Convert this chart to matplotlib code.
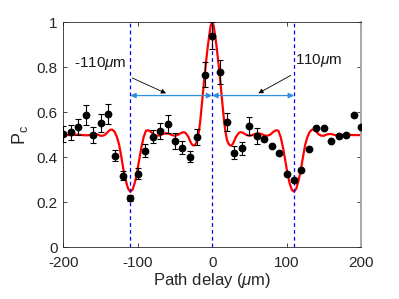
import matplotlib
matplotlib.use("Agg")
import matplotlib.pyplot as plt

plt.rcParams['font.family'] = ['Liberation Sans', 'DejaVu Sans']
plt.rcParams['mathtext.fontset'] = 'custom'
plt.rcParams['mathtext.it'] = 'Liberation Sans:italic'
plt.rcParams['mathtext.rm'] = 'Liberation Sans'
plt.rcParams['axes.unicode_minus'] = False

# measured data
delay = [-200, -190, -180, -170, -160, -150, -140, -130, -120, -110, -100, -90, -80, -70,
         -60, -50, -40, -30, -20, -10, 0, 10, 20, 30, 40, 50, 60, 70, 80, 90, 100, 110,
         120, 130, 140, 150, 160, 170, 180, 190, 200]
pc = [0.503, 0.510, 0.534, 0.586, 0.499, 0.550, 0.592, 0.407, 0.318, 0.218, 0.326, 0.429,
      0.491, 0.516, 0.546, 0.472, 0.442, 0.402, 0.490, 0.767, 0.940, 0.779, 0.555, 0.420,
      0.439, 0.540, 0.494, 0.479, 0.450, 0.418, 0.323, 0.297, 0.344, 0.436, 0.528, 0.531,
      0.473, 0.494, 0.499, 0.588, 0.536]
pc_err = [0.035, 0.035, 0.035, 0.045, 0.035, 0.040, 0.045, 0.025, 0.020, 0.015, 0.025, 0.030,
          0.030, 0.035, 0.040, 0.035, 0.030, 0.025, 0.035, 0.055, 0.060, 0.055, 0.040, 0.030,
          0.030, 0.040, 0.035, 0, 0, 0, 0, 0,
          0, 0, 0, 0, 0, 0, 0, 0, 0]

# theory curve
fit_x = [-200, -190, -180, -170, -165, -160, -155, -150, -146, -143, -140, -137, -134, -131,
         -128, -125, -122, -119, -116, -113, -110, -107, -104, -101, -98, -95, -92, -89, -86,
         -82, -78, -74, -70, -66, -62, -58, -54, -50, -46, -43, -40, -38, -36, -34, -32, -30,
         -28, -26, -24, -22, -20, -18, -16, -14, -12, -10, -8, -6, -4, -2,
         0, 2, 4, 6, 8, 10, 12, 14, 16, 18, 20, 22, 24, 26, 28, 30, 32, 34, 36, 38, 40, 43,
         46, 50, 54, 58, 62, 66, 70, 74, 78, 82, 86, 89, 92, 95, 98, 101, 104, 107, 110, 113,
         116, 119, 122, 125, 128, 131, 134, 137, 140, 143, 146, 150, 155, 160, 165, 170, 180,
         190, 200]
fit_y = [0.498, 0.498, 0.500, 0.497, 0.498, 0.503, 0.502, 0.495, 0.496, 0.502, 0.513, 0.522,
         0.522, 0.512, 0.490, 0.455, 0.400, 0.340, 0.295, 0.260, 0.246, 0.255, 0.285, 0.330,
         0.390, 0.445, 0.490, 0.517, 0.520, 0.512, 0.500, 0.495, 0.497, 0.503, 0.506, 0.504,
         0.498, 0.495, 0.499, 0.505, 0.510, 0.511, 0.508, 0.500, 0.490, 0.475, 0.460, 0.453,
         0.452, 0.460, 0.475, 0.510, 0.560, 0.630, 0.700, 0.770, 0.830, 0.890, 0.940, 0.985,
         1.000, 0.985, 0.940, 0.890, 0.830, 0.770, 0.700, 0.630, 0.560, 0.510, 0.475, 0.460,
         0.452, 0.453, 0.460, 0.475, 0.490, 0.500, 0.508, 0.511, 0.510, 0.505, 0.499, 0.495,
         0.498, 0.504, 0.506, 0.503, 0.497, 0.495, 0.500, 0.512, 0.520, 0.517, 0.490, 0.445,
         0.390, 0.330, 0.285, 0.255, 0.246, 0.260, 0.295, 0.340, 0.400, 0.455, 0.490, 0.512,
         0.522, 0.522, 0.513, 0.502, 0.496, 0.495, 0.502, 0.503, 0.498, 0.497, 0.500, 0.498,
         0.498]

marks = [-110, 0, 110]
arrow_y = 0.674
xticks = [-200, -100, 0, 100, 200]
yticks = [0, 0.2, 0.4, 0.6, 0.8, 1.0]
yticklabels = ['0', '0.2', '0.4', '0.6', '0.8', '1']

fig = plt.figure(figsize=(3.99, 2.99), dpi=100)
ax = fig.add_axes([0.1587, 0.1739, 0.9048 - 0.1587, 0.9254 - 0.1739])

ax.plot(fit_x, fit_y, color='red', lw=1.6, zorder=2)
for m in marks:
    ax.axvline(m, color='blue', lw=0.9, ls=(0, (3, 2.5)), zorder=3)

ex, ey, ee = [], [], []
for x, y, e in zip(delay, pc, pc_err):
    if e > 0:
        ex.append(x); ey.append(y); ee.append(e)
ax.errorbar(ex, ey, yerr=ee, fmt='none', ecolor='black', elinewidth=0.8, capsize=2.4,
            capthick=0.8, zorder=4)
ax.plot(delay, pc, 'o', color='black', ms=4.6, zorder=5)

arrow_col = '#2f8fd8'
ax.annotate('', xy=(marks[0], arrow_y), xytext=(marks[1], arrow_y),
            arrowprops=dict(arrowstyle='<|-|>', color=arrow_col, lw=0.9,
                            mutation_scale=8, shrinkA=0, shrinkB=0), zorder=6)
ax.annotate('', xy=(marks[1], arrow_y), xytext=(marks[2], arrow_y),
            arrowprops=dict(arrowstyle='<|-|>', color=arrow_col, lw=0.9,
                            mutation_scale=8, shrinkA=0, shrinkB=0), zorder=6)

ax.annotate('-110$\\mu$m', xy=(-62, 0.684), xytext=(-151, 0.818), ha='center', va='center',
            fontsize=11, color='#1a1a1a',
            arrowprops=dict(arrowstyle='-|>', color='black', lw=0.6, mutation_scale=7,
                            shrinkA=6, shrinkB=0))
ax.annotate('110$\\mu$m', xy=(62, 0.684), xytext=(143, 0.832), ha='center', va='center',
            fontsize=11, color='#1a1a1a',
            arrowprops=dict(arrowstyle='-|>', color='black', lw=0.6, mutation_scale=7,
                            shrinkA=6, shrinkB=0))

ax.set_xlim(-200, 200)
ax.set_ylim(0, 1)
ax.set_xticks(xticks)
ax.set_xticklabels([str(t) for t in xticks])
ax.set_yticks(yticks)
ax.set_yticklabels(yticklabels)
ax.tick_params(direction='in', top=True, right=True, length=3, width=0.6,
               labelsize=11, colors='#262626')
ax.tick_params(axis='x', pad=6.5)
ax.tick_params(axis='y', pad=4)
for s in ['left', 'bottom', 'top']:
    ax.spines[s].set_color('#262626')
    ax.spines[s].set_linewidth(0.6)
ax.spines['right'].set_color('#a8a8a8')
ax.spines['right'].set_linewidth(1.4)

ax.set_xlabel('Path delay ($\\mu$m)', fontsize=12, color='#262626', labelpad=1)
ax.set_ylabel('P$_\\mathregular{c}$', fontsize=13, color='#262626', labelpad=5)

fig.savefig('out.png', dpi=100)
